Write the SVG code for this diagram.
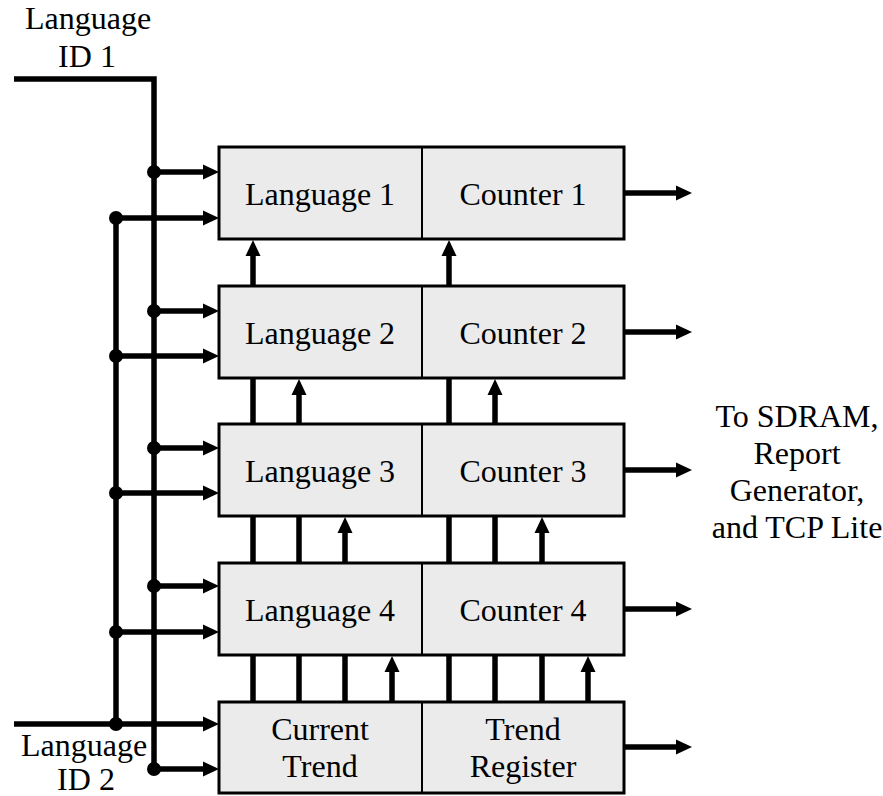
<svg xmlns="http://www.w3.org/2000/svg" width="883" height="796" viewBox="0 0 883 796">
<style>
.box{fill:#ebebeb;stroke:#000;stroke-width:3}
.div{stroke:#000;stroke-width:2}
.w{fill:none;stroke:#000;stroke-width:5.5}
text{font-size:32px;fill:#000;text-anchor:middle}
</style>
<defs>
<marker id="ah" markerUnits="userSpaceOnUse" markerWidth="17" markerHeight="16" refX="0" refY="8" orient="auto" overflow="visible">
<path d="M0,0.5 L16,8 L0,15.5 z" fill="#000"/>
</marker>
</defs>
<rect width="883" height="796" fill="#fff"/>
<g font-family="Liberation Serif, DejaVu Serif, serif">
<g id="row1">
<rect class="box" x="219" y="147" width="405" height="92"/>
<line class="div" x1="422" y1="147" x2="422" y2="239"/>
<text x="320" y="205">Language 1</text>
<text x="523" y="205">Counter 1</text>
</g>
<g id="row2">
<rect class="box" x="219" y="286" width="405" height="92"/>
<line class="div" x1="422" y1="286" x2="422" y2="378"/>
<text x="320" y="344">Language 2</text>
<text x="523" y="344">Counter 2</text>
</g>
<g id="row3">
<rect class="box" x="219" y="424" width="405" height="92"/>
<line class="div" x1="422" y1="424" x2="422" y2="516"/>
<text x="320" y="482">Language 3</text>
<text x="523" y="482">Counter 3</text>
</g>
<g id="row4">
<rect class="box" x="219" y="563" width="405" height="92"/>
<line class="div" x1="422" y1="563" x2="422" y2="655"/>
<text x="320" y="621">Language 4</text>
<text x="523" y="621">Counter 4</text>
</g>
<g id="row5">
<rect class="box" x="219" y="702" width="405" height="91"/>
<line class="div" x1="422" y1="702" x2="422" y2="793"/>
<text x="320" y="740">Current</text>
<text x="320" y="777">Trend</text>
<text x="523" y="740">Trend</text>
<text x="523" y="777">Register</text>
</g>
<g id="labels">
<text x="88" y="29">Language</text>
<text x="87" y="67">ID 1</text>
<text x="84" y="756">Language</text>
<text x="86" y="790">ID 2</text>
<text x="797" y="427">To SDRAM,</text>
<text x="797" y="464">Report</text>
<text x="797" y="501">Generator,</text>
<text x="797" y="538">and TCP Lite</text>
</g>
</g>
<g id="connectors">
<polyline class="w" points="14,79 154,79 154,769"/>
<line class="w" x1="116" y1="218" x2="116" y2="724"/>
<line class="w" x1="14" y1="724" x2="203" y2="724" marker-end="url(#ah)"/>
<g marker-end="url(#ah)">
<line class="w" x1="154" y1="172" x2="203" y2="172"/>
<line class="w" x1="116" y1="218" x2="203" y2="218"/>
<line class="w" x1="154" y1="311" x2="203" y2="311"/>
<line class="w" x1="116" y1="356" x2="203" y2="356"/>
<line class="w" x1="154" y1="448" x2="203" y2="448"/>
<line class="w" x1="116" y1="493" x2="203" y2="493"/>
<line class="w" x1="154" y1="586" x2="203" y2="586"/>
<line class="w" x1="116" y1="632" x2="203" y2="632"/>
<line class="w" x1="154" y1="769" x2="203" y2="769"/>
<line class="w" x1="625" y1="193" x2="676" y2="193"/>
<line class="w" x1="625" y1="332" x2="676" y2="332"/>
<line class="w" x1="625" y1="470" x2="676" y2="470"/>
<line class="w" x1="625" y1="609" x2="676" y2="609"/>
<line class="w" x1="625" y1="747" x2="676" y2="747"/>
<line class="w" x1="253" y1="286" x2="253" y2="256"/>
<line class="w" x1="449" y1="286" x2="449" y2="256"/>
<line class="w" x1="299" y1="424" x2="299" y2="395"/>
<line class="w" x1="495" y1="424" x2="495" y2="395"/>
<line class="w" x1="345" y1="563" x2="345" y2="533"/>
<line class="w" x1="542" y1="563" x2="542" y2="533"/>
<line class="w" x1="392" y1="702" x2="392" y2="672"/>
<line class="w" x1="588" y1="702" x2="588" y2="672"/>
</g>
<line class="w" x1="253" y1="424" x2="253" y2="378"/>
<line class="w" x1="449" y1="424" x2="449" y2="378"/>
<line class="w" x1="253" y1="563" x2="253" y2="516"/>
<line class="w" x1="299" y1="563" x2="299" y2="516"/>
<line class="w" x1="449" y1="563" x2="449" y2="516"/>
<line class="w" x1="495" y1="563" x2="495" y2="516"/>
<line class="w" x1="253" y1="702" x2="253" y2="655"/>
<line class="w" x1="299" y1="702" x2="299" y2="655"/>
<line class="w" x1="345" y1="702" x2="345" y2="655"/>
<line class="w" x1="449" y1="702" x2="449" y2="655"/>
<line class="w" x1="495" y1="702" x2="495" y2="655"/>
<line class="w" x1="542" y1="702" x2="542" y2="655"/>
<g fill="#000">
<circle cx="154" cy="172" r="7"/>
<circle cx="154" cy="311" r="7"/>
<circle cx="154" cy="448" r="7"/>
<circle cx="154" cy="586" r="7"/>
<circle cx="154" cy="769" r="7"/>
<circle cx="116" cy="218" r="7"/>
<circle cx="116" cy="356" r="7"/>
<circle cx="116" cy="493" r="7"/>
<circle cx="116" cy="632" r="7"/>
<circle cx="116" cy="724" r="7"/>
</g>
</g>
</svg>
